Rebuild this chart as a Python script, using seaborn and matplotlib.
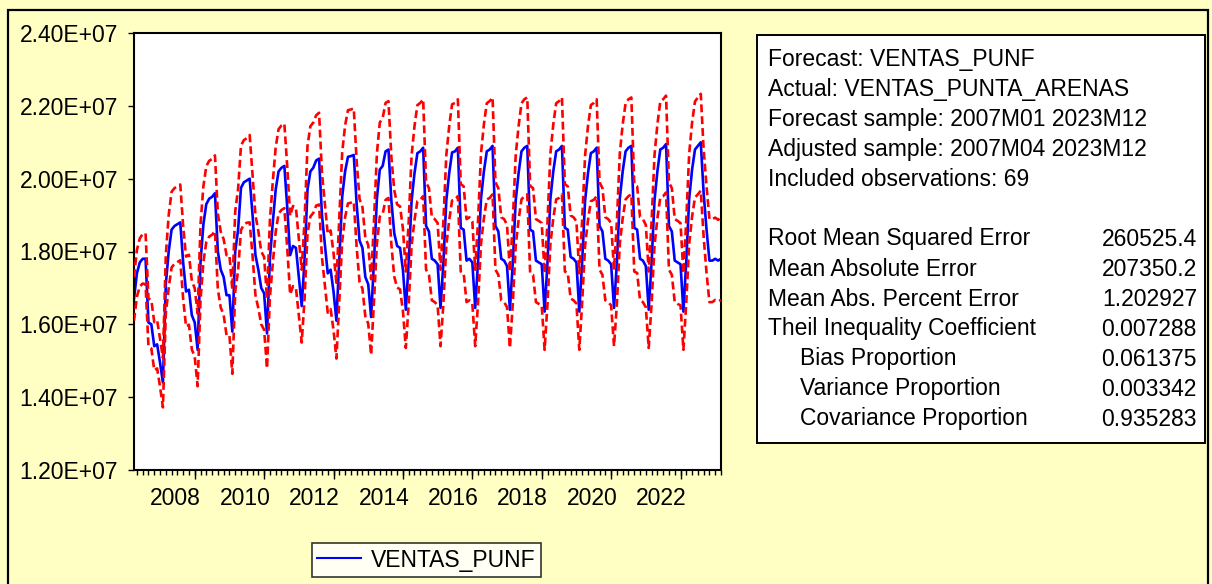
import numpy as np
import pandas as pd
import matplotlib
matplotlib.use("Agg")
import matplotlib.pyplot as plt
import seaborn as sns
from matplotlib.patches import Rectangle
from matplotlib.lines import Line2D
from matplotlib.ticker import FuncFormatter

# Monthly forecast of VENTAS_PUNF, 2007M01-2023M12 (millions)
forecast_mill = [
    16.70, 17.40, 17.70, 17.80, 17.80, 16.05, 16.00, 15.40, 15.45, 14.95, 14.40, 17.10,  # 2007
    18.00, 18.60, 18.70, 18.75, 18.80, 17.70, 16.90, 16.95, 16.25, 16.05, 15.30, 17.70,  # 2008
    18.75, 19.30, 19.45, 19.50, 19.60, 18.00, 17.50, 17.30, 16.80, 16.80, 15.80, 18.00,  # 2009
    18.60, 19.75, 19.90, 19.95, 20.00, 19.00, 17.90, 17.50, 17.00, 16.85, 15.75, 17.80,  # 2010
    18.80, 19.70, 20.20, 20.30, 20.35, 19.20, 17.90, 18.15, 18.10, 17.30, 16.50, 17.80,  # 2011
    19.70, 20.20, 20.30, 20.50, 20.55, 19.00, 18.20, 17.40, 17.50, 16.90, 16.10, 17.80,  # 2012
    19.50, 20.20, 20.60, 20.62, 20.65, 19.30, 18.30, 18.10, 17.30, 17.10, 16.20, 17.75,  # 2013
    19.45, 20.25, 20.35, 20.75, 20.80, 19.40, 18.50, 18.15, 18.10, 17.50, 16.40, 17.70,  # 2014
    19.40, 20.15, 20.70, 20.75, 20.85, 18.70, 18.55, 17.80, 17.75, 17.65, 16.45, 17.70,  # 2015
    19.40, 20.15, 20.72, 20.75, 20.85, 18.65, 18.60, 17.75, 17.80, 17.70, 16.45, 17.75,  # 2016
    19.45, 20.20, 20.75, 20.80, 20.90, 18.70, 18.55, 17.80, 17.75, 17.60, 16.40, 17.70,  # 2017
    19.40, 20.15, 20.75, 20.85, 20.90, 18.60, 18.55, 17.75, 17.70, 17.65, 16.35, 17.70,  # 2018
    19.45, 20.20, 20.75, 20.80, 20.90, 18.65, 18.60, 17.85, 17.80, 17.70, 16.35, 17.75,  # 2019
    19.40, 20.15, 20.70, 20.75, 20.85, 18.70, 18.55, 17.80, 17.75, 17.65, 16.45, 17.70,  # 2020
    19.45, 20.20, 20.75, 20.85, 20.90, 18.65, 18.60, 17.80, 17.75, 17.60, 16.40, 17.70,  # 2021
    19.40, 20.20, 20.80, 20.85, 20.95, 18.70, 18.55, 17.75, 17.70, 17.65, 16.35, 17.75,  # 2022
    19.45, 20.25, 20.80, 20.90, 21.00, 19.60, 18.60, 17.75, 17.75, 17.80, 17.75, 17.80,  # 2023
]

# Forecast standard errors (millions); bands are forecast +/- 2 S.E.
std_error_mill = [
    0.30, 0.32, 0.33, 0.34, 0.35, 0.33, 0.33, 0.33, 0.33, 0.33, 0.34, 0.40,  # 2007
    0.50, 0.52, 0.52, 0.52, 0.52, 0.50, 0.48, 0.48, 0.47, 0.47, 0.50, 0.52,  # 2008
    0.52, 0.52, 0.52, 0.52, 0.52, 0.52, 0.52, 0.52, 0.55, 0.55, 0.58, 0.55,  # 2009
    0.56, 0.58, 0.58, 0.58, 0.60, 0.56, 0.55, 0.53, 0.50, 0.50, 0.48, 0.53,  # 2010
    0.56, 0.58, 0.58, 0.58, 0.58, 0.56, 0.54, 0.55, 0.55, 0.53, 0.50, 0.54,  # 2011
    0.60, 0.62, 0.62, 0.62, 0.63, 0.58, 0.56, 0.54, 0.54, 0.53, 0.52, 0.55,  # 2012
    0.61, 0.63, 0.64, 0.64, 0.64, 0.59, 0.57, 0.56, 0.54, 0.54, 0.52, 0.55,  # 2013
    0.62, 0.645, 0.66, 0.665, 0.665, 0.60, 0.595, 0.57, 0.57, 0.565, 0.525, 0.565,  # 2014
    0.62, 0.645, 0.66, 0.665, 0.665, 0.60, 0.595, 0.57, 0.57, 0.565, 0.525, 0.565,  # 2015
    0.62, 0.645, 0.66, 0.665, 0.665, 0.60, 0.595, 0.57, 0.57, 0.565, 0.525, 0.565,  # 2016
    0.62, 0.645, 0.66, 0.665, 0.665, 0.60, 0.595, 0.57, 0.57, 0.565, 0.525, 0.565,  # 2017
    0.62, 0.645, 0.66, 0.665, 0.665, 0.60, 0.595, 0.57, 0.57, 0.565, 0.525, 0.565,  # 2018
    0.62, 0.645, 0.66, 0.665, 0.665, 0.60, 0.595, 0.57, 0.57, 0.565, 0.525, 0.565,  # 2019
    0.62, 0.645, 0.66, 0.665, 0.665, 0.60, 0.595, 0.57, 0.57, 0.565, 0.525, 0.565,  # 2020
    0.62, 0.645, 0.66, 0.665, 0.665, 0.60, 0.595, 0.57, 0.57, 0.565, 0.525, 0.565,  # 2021
    0.62, 0.645, 0.66, 0.665, 0.665, 0.60, 0.595, 0.57, 0.57, 0.565, 0.525, 0.565,  # 2022
    0.62, 0.645, 0.66, 0.665, 0.665, 0.60, 0.595, 0.57, 0.57, 0.565, 0.56, 0.565,  # 2023
]

year_labels = [2008, 2010, 2012, 2014, 2016, 2018, 2020, 2022]
y_ticks = [1.2e7, 1.4e7, 1.6e7, 1.8e7, 2.0e7, 2.2e7, 2.4e7]

stats_header = [
    "Forecast: VENTAS_PUNF",
    "Actual: VENTAS_PUNTA_ARENAS",
    "Forecast sample: 2007M01 2023M12",
    "Adjusted sample: 2007M04 2023M12",
    "Included observations: 69",
]
stats_names = [
    "Root Mean Squared Error",
    "Mean Absolute Error",
    "Mean Abs. Percent Error",
    "Theil Inequality Coefficient",
    "     Bias Proportion",
    "     Variance Proportion",
    "     Covariance Proportion",
]
stats_values = ["260525.4", "207350.2", "1.202927", "0.007288",
                "0.061375", "0.003342", "0.935283"]

# ---------------------------------------------------------------------------
periods = pd.period_range("2007-01", "2023-12", freq="M")
df = pd.DataFrame({
    "t": periods.year + (periods.month - 1) / 12.0,
    "forecast": np.array(forecast_mill) * 1e6,
    "se": np.array(std_error_mill) * 1e6,
})
df["upper"] = df["forecast"] + 2 * df["se"]
df["lower"] = df["forecast"] - 2 * df["se"]

BG = "#FFFFC4"
FONT = "Liberation Sans"
FS = 16.5
LW = 1.9
plt.rcParams["font.family"] = [FONT, "DejaVu Sans"]

W, H = 1212, 584
fig = plt.figure(figsize=(W / 100, H / 100), dpi=100, facecolor=BG)


def fx(px):
    return px / W


def fy(py):
    return 1 - py / H


# outer frame of the graph window
fig.add_artist(Rectangle((fx(8), fy(600)), fx(1208) - fx(8), fy(10) - fy(600),
                         transform=fig.transFigure, fill=False,
                         edgecolor="black", linewidth=1.6, clip_on=False))

ax = fig.add_axes([fx(134), fy(470), (721 - 134) / W, (470 - 33) / H])
ax.set_facecolor("white")

sns.lineplot(data=df, x="t", y="forecast", ax=ax, color="#0000FF",
             linewidth=LW, zorder=2, legend=False)
for col in ["upper", "lower"]:
    sns.lineplot(data=df, x="t", y=col, ax=ax, color="#FF0000",
                 linewidth=LW, zorder=3, legend=False)
    ax.lines[-1].set_dashes([3, 1.5])

ax.set_xlim(df["t"].iloc[0], df["t"].iloc[-1])
ax.set_ylim(y_ticks[0], y_ticks[-1])
ax.set_xlabel("")
ax.set_ylabel("")

for sp in ax.spines.values():
    sp.set_color("black")
    sp.set_linewidth(1.5)

# y axis
ax.set_yticks(y_ticks)
ax.yaxis.set_major_formatter(FuncFormatter(lambda v, p: f"{v:.2E}"))
ax.tick_params(axis="y", direction="out", length=4, width=1, pad=7.5,
               labelsize=FS, colors="black")

# x axis: year labels plus bi-monthly minor ticks
ax.set_xticks([y + 0.2 for y in year_labels])
ax.set_xticklabels([str(y) for y in year_labels])
ax.tick_params(axis="x", which="major", length=0, pad=12.5, labelsize=FS)
minor = df["t"].iloc[1::2].tolist()
ax.set_xticks(minor, minor=True)
ax.tick_params(axis="x", which="minor", direction="out", length=3.8, width=1)

sec = ax.secondary_xaxis("bottom")
sec.set_xticks(df["t"].iloc[21::24].tolist())
sec.set_xticklabels([])
sec.tick_params(length=6.5, width=1, direction="out")
sec.spines["bottom"].set_visible(False)

# legend
handle = Line2D([], [], color="#0000FF", linewidth=1.5)
leg = fig.legend([handle], ["VENTAS_PUNF"], loc="center",
                 bbox_to_anchor=(fx(426.5), fy(560)), frameon=True,
                 fancybox=False, fontsize=FS, handlelength=1.9,
                 handletextpad=0.45, borderpad=0.25, borderaxespad=0)
leg.get_frame().set_edgecolor("black")
leg.get_frame().set_linewidth(1.2)
leg.get_frame().set_facecolor("white")

# statistics box
fig.add_artist(Rectangle((fx(757), fy(443)), fx(1205) - fx(757), fy(35) - fy(443),
                         transform=fig.transFigure, facecolor="white",
                         edgecolor="black", linewidth=1.4, zorder=1))
for k, line in enumerate(stats_header):
    fig.text(fx(768), fy(66 + 30 * k), line, fontsize=FS, va="baseline",
             ha="left", color="black")
for k, (name, val) in enumerate(zip(stats_names, stats_values)):
    ypix = 245.5 + 30 * k
    x0 = 800 if name.startswith(" ") else 768
    fig.text(fx(x0), fy(ypix), name.strip(), fontsize=FS, va="baseline",
             ha="left", color="black")
    fig.text(fx(1197), fy(ypix), val, fontsize=FS, va="baseline",
             ha="right", color="black")

fig.savefig("out.png", dpi=100, facecolor=BG)
